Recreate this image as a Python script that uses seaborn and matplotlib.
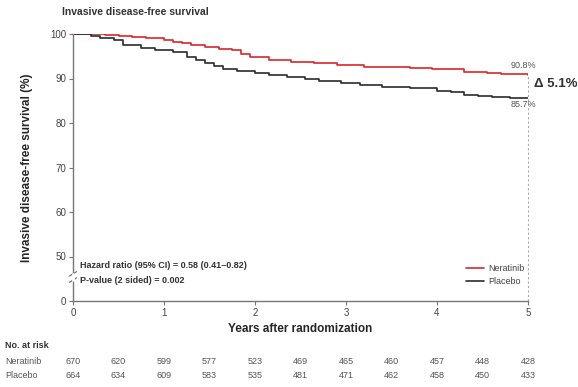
import matplotlib
matplotlib.use("Agg")
import matplotlib.pyplot as plt
import matplotlib.transforms as mtransforms
import seaborn as sns
import pandas as pd

# Kaplan-Meier step points (years, % event-free)
NER_YEARS = [0, 0.35, 0.5, 0.65, 0.8, 1.0, 1.1, 1.2, 1.3, 1.45, 1.6, 1.75, 1.85, 1.95,
             2.15, 2.4, 2.65, 2.9, 3.2, 3.45, 3.7, 3.95, 4.3, 4.55, 4.7, 4.95, 5.0]
NER_SURV = [100, 99.8, 99.5, 99.3, 99.0, 98.6, 98.3, 98.0, 97.6, 97.1, 96.6, 96.3, 95.4,
            94.8, 94.1, 93.8, 93.4, 93.0, 92.6, 92.5, 92.3, 92.1, 91.5, 91.3, 91.1,
            90.9, 90.8]

PLA_YEARS = [0, 0.2, 0.3, 0.45, 0.55, 0.75, 0.9, 1.1, 1.25, 1.35, 1.45, 1.55, 1.65, 1.8,
             2.0, 2.15, 2.35, 2.55, 2.7, 2.95, 3.15, 3.4, 3.7, 4.0, 4.15, 4.3, 4.45, 4.6,
             4.8, 5.0]
PLA_SURV = [100, 99.6, 99.0, 98.6, 97.6, 96.9, 96.5, 95.9, 94.9, 94.2, 93.4, 92.8, 92.1,
            91.6, 91.2, 90.7, 90.3, 89.9, 89.5, 89.0, 88.5, 88.2, 87.8, 87.3, 86.9, 86.4,
            86.1, 85.8, 85.7, 85.7]

# number at risk every half year
RISK_YEARS = [0, 0.5, 1, 1.5, 2, 2.5, 3, 3.5, 4, 4.5, 5]
NER_RISK = [670, 620, 599, 577, 523, 469, 465, 460, 457, 448, 428]
PLA_RISK = [664, 634, 609, 583, 535, 481, 471, 462, 458, 450, 433]

# y axis is broken: 0 sits just below 50
Y_TICKS = [40, 50, 60, 70, 80, 90, 100]
Y_LABELS = ["0", "50", "60", "70", "80", "90", "100"]

RED = "#d8262b"
BLACK = "#2b2b2b"
AXIS = "#777777"

sns.set_style("ticks")
plt.rcParams["font.family"] = ["Liberation Sans", "DejaVu Sans"]

df = pd.concat([
    pd.DataFrame({"years": NER_YEARS, "surv": NER_SURV, "arm": "Neratinib"}),
    pd.DataFrame({"years": PLA_YEARS, "surv": PLA_SURV, "arm": "Placebo"}),
])

fig = plt.figure(figsize=(5.78, 3.87), dpi=100)
ax = fig.add_axes([73 / 578, 1 - 301 / 387, 455 / 578, 267 / 387])

sns.lineplot(data=df, x="years", y="surv", hue="arm", palette=[RED, BLACK],
             drawstyle="steps-post", linewidth=1.2, ax=ax, estimator=None)

ax.set_xlim(0, 5)
ax.set_ylim(40, 100)
ax.set_xticks([0, 1, 2, 3, 4, 5])
ax.set_yticks(Y_TICKS)
ax.set_yticklabels(Y_LABELS)
ax.tick_params(labelsize=7, colors=AXIS, labelcolor="#444444", length=3, width=0.8, pad=2)
sns.despine(ax=ax)
for s in ["left", "bottom"]:
    ax.spines[s].set_color(AXIS)
    ax.spines[s].set_linewidth(1.0)

ax.set_xlabel("Years after randomization", fontsize=8.5, fontweight="bold", labelpad=4)
ax.set_ylabel("Invasive disease-free survival (%)", fontsize=8.5, fontweight="bold",
              labelpad=12)

# axis break marks
ax.plot([-0.04, 0.04], [44.2, 45.2], color=AXIS, lw=0.9, clip_on=False)
ax.plot([-0.04, 0.04], [45.6, 46.6], color=AXIS, lw=0.9, clip_on=False)
ax.plot([0, 0], [44.8, 46.0], color="white", lw=2, clip_on=False, zorder=5)

# dashed line at 5 years
ax.plot([5, 5], [40, NER_SURV[-1]], color="#aaaaaa", lw=0.8, ls=(0, (2, 2)),
        clip_on=False)

ax.text(4.95, NER_SURV[-1] + 1.0, "90.8%", fontsize=6.5, color="#555555",
        ha="center", va="bottom")
ax.text(4.95, PLA_SURV[-1] - 0.5, "85.7%", fontsize=6.5, color="#555555",
        ha="center", va="top")
ax.text(5.07, (NER_SURV[-1] + PLA_SURV[-1]) / 2 + 0.5, "Δ 5.1%", fontsize=9.5,
        fontweight="bold", color="#333333", ha="left", va="center")

ax.text(0.08, 48.0, "Hazard ratio (95% CI) = 0.58 (0.41\u20130.82)", fontsize=6.5,
        fontweight="bold", color="#333333", va="center")
ax.text(0.08, 44.6, "P-value (2 sided) = 0.002", fontsize=6.5,
        fontweight="bold", color="#333333", va="center")

ax.legend(loc="center left", bbox_to_anchor=(458 / 578, 1 - 275 / 387),
          bbox_transform=fig.transFigure, frameon=False, fontsize=6.5,
          handlelength=2.0, handletextpad=0.5, labelspacing=0.4, title=None,
          labelcolor="#444444")

fig.text(62 / 578, 1 - 12 / 387, "Invasive disease-free survival", fontsize=7.5,
         fontweight="bold", color="#333333", va="center")

# number at risk table
fig.text(5 / 578, 1 - 345 / 387, "No. at risk", fontsize=6.5, fontweight="bold",
         color="#333333", va="center")
fig.text(5 / 578, 1 - 361 / 387, "Neratinib", fontsize=6.5, color="#555555", va="center")
fig.text(5 / 578, 1 - 376 / 387, "Placebo", fontsize=6.5, color="#555555", va="center")
trans = mtransforms.blended_transform_factory(ax.transData, fig.transFigure)
for x, n, p in zip(RISK_YEARS, NER_RISK, PLA_RISK):
    ax.text(x, 1 - 361 / 387, str(n), transform=trans, fontsize=6.5, color="#555555",
            ha="center", va="center")
    ax.text(x, 1 - 376 / 387, str(p), transform=trans, fontsize=6.5, color="#555555",
            ha="center", va="center")

fig.savefig("out.png", dpi=100)
